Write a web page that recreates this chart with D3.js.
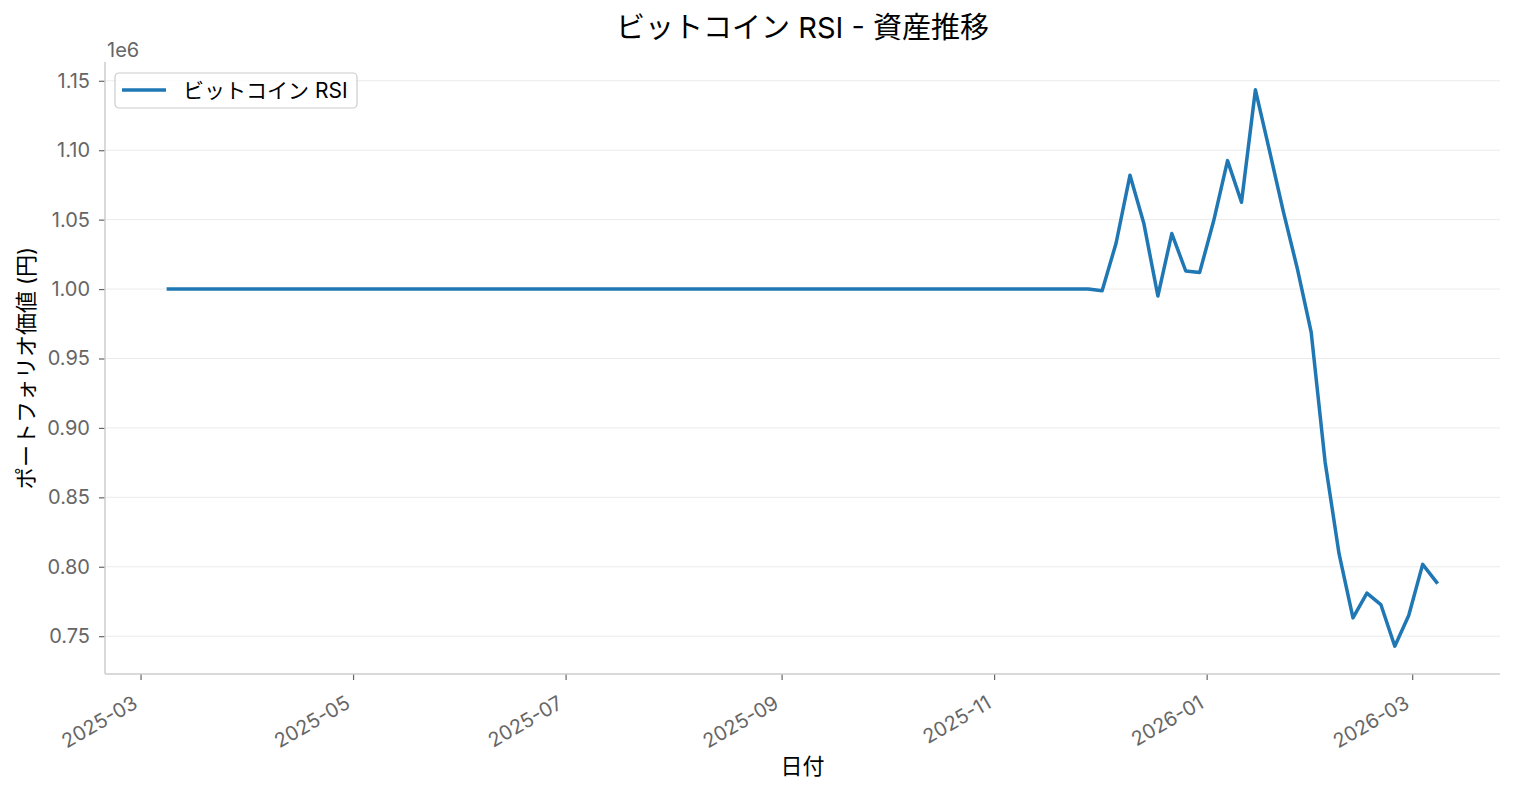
<!DOCTYPE html>
<html>
<head>
<meta charset="utf-8">
<script src="https://cdn.jsdelivr.net/npm/d3@7/dist/d3.min.js"></script>
<style>
  html, body { margin: 0; padding: 0; background: #fff; }
  svg { display: block; font-family: Inter, "Noto Sans CJK JP", sans-serif; }
</style>
</head>
<body>
<svg id="chart" width="1514" height="793"></svg>
<script>
// ---- data ----
const chartTitle = "ビットコイン RSI - 資産推移";
const seriesName = "ビットコイン RSI";
const xLabel = "日付";
const yLabel = "ポートフォリオ価値 (円)";
const offsetLabel = "1e6";

const dates = [
  "2025-03-09", "2025-11-28", "2025-12-02", "2025-12-06", "2025-12-10",
  "2025-12-14", "2025-12-18", "2025-12-22", "2025-12-26", "2025-12-30",
  "2026-01-03", "2026-01-07", "2026-01-11", "2026-01-15", "2026-01-19",
  "2026-01-23", "2026-01-27", "2026-01-31", "2026-02-04", "2026-02-08",
  "2026-02-12", "2026-02-16", "2026-02-20", "2026-02-24", "2026-02-28",
  "2026-03-04", "2026-03-08"
];
const values = [
  1000000, 1000000, 998800, 1033000, 1082000,
  1047000, 995000, 1040000, 1013000, 1012000,
  1049000, 1092500, 1062500, 1143500, 1100000,
  1056000, 1015000, 969000, 875500, 809400,
  763200, 781000, 772800, 742800, 764900,
  801700, 788900
];

const yTicks = [750000, 800000, 850000, 900000, 950000, 1000000, 1050000, 1100000, 1150000];
const xTicks = ["2025-03-01", "2025-05-01", "2025-07-01", "2025-09-01", "2025-11-01", "2026-01-01", "2026-03-01"];

// ---- layout ----
const FONT = "Inter, 'Noto Sans CJK JP', sans-serif";
const svg = d3.select("#chart");
const plot = { left: 105, right: 1500, top: 62, bottom: 674 };
const parse = d3.utcParse("%Y-%m-%d");
const points = dates.map((d, i) => ({ date: parse(d), value: values[i] }));

const xExt = d3.extent(points, d => d.date);
const xPad = (xExt[1] - xExt[0]) * 0.05;
const x = d3.scaleUtc()
  .domain([new Date(+xExt[0] - xPad), new Date(+xExt[1] + xPad)])
  .range([plot.left, plot.right]);

const yExt = d3.extent(points, d => d.value);
const yPad = (yExt[1] - yExt[0]) * 0.05;
const y = d3.scaleLinear()
  .domain([yExt[0] - yPad, yExt[1] + yPad])
  .range([plot.bottom, plot.top]);

// grid
svg.append("g")
  .selectAll("line")
  .data(yTicks)
  .join("line")
  .attr("x1", plot.left).attr("x2", plot.right)
  .attr("y1", d => y(d)).attr("y2", d => y(d))
  .attr("stroke", "#ebebeb").attr("stroke-width", 1);

// y axis
const yAxis = svg.append("g")
  .attr("transform", `translate(${plot.left},0)`)
  .call(d3.axisLeft(y).tickValues(yTicks).tickSize(6).tickPadding(9)
    .tickFormat(d => d3.format(".2f")(d / 1e6)));
yAxis.select(".domain").remove();
yAxis.selectAll(".tick line").attr("stroke", "#666").attr("stroke-width", 1.2);
yAxis.selectAll(".tick text")
  .attr("fill", "#666").attr("font-size", 20)
  .attr("font-family", FONT);

// x axis
const xAxis = svg.append("g")
  .attr("transform", `translate(0,${plot.bottom})`)
  .call(d3.axisBottom(x).tickValues(xTicks.map(parse)).tickSize(6)
    .tickFormat(d3.utcFormat("%Y-%m")));
xAxis.select(".domain").remove();
xAxis.selectAll(".tick line").attr("stroke", "#666").attr("stroke-width", 1.2);
xAxis.selectAll(".tick text")
  .attr("fill", "#666").attr("font-size", 20)
  .attr("font-family", FONT)
  .attr("text-anchor", "end")
  .attr("dy", null)
  .attr("y", null)
  .attr("transform", "translate(-2,33) rotate(-30)");

// spines
svg.append("line")
  .attr("x1", plot.left).attr("x2", plot.left)
  .attr("y1", plot.top).attr("y2", plot.bottom)
  .attr("stroke", "#cccccc").attr("stroke-width", 1.5);
svg.append("line")
  .attr("x1", plot.left).attr("x2", plot.right)
  .attr("y1", plot.bottom).attr("y2", plot.bottom)
  .attr("stroke", "#cccccc").attr("stroke-width", 1.5);

// line
const line = d3.line().x(d => x(d.date)).y(d => y(d.value));
svg.append("path")
  .datum(points)
  .attr("d", line)
  .attr("fill", "none")
  .attr("stroke", "#1f77b4")
  .attr("stroke-width", 3.5)
  .attr("stroke-linejoin", "round")
  .attr("stroke-linecap", "square");

// offset text
svg.append("text")
  .attr("x", plot.left + 2).attr("y", 57)
  .attr("fill", "#666").attr("font-size", 20)
  .text(offsetLabel);

// title
svg.append("text")
  .attr("x", (plot.left + plot.right) / 2).attr("y", 27)
  .attr("text-anchor", "middle").attr("dominant-baseline", "central")
  .attr("font-size", 29).attr("fill", "#000")
  .text(chartTitle);

// axis labels
svg.append("text")
  .attr("x", (plot.left + plot.right) / 2).attr("y", 766)
  .attr("text-anchor", "middle").attr("dominant-baseline", "central")
  .attr("font-size", 22).attr("fill", "#000")
  .text(xLabel);
svg.append("text")
  .attr("transform", `translate(26,${(plot.top + plot.bottom) / 2}) rotate(-90)`)
  .attr("text-anchor", "middle").attr("dominant-baseline", "central")
  .attr("font-size", 22).attr("fill", "#000")
  .text(yLabel);

// legend
const lg = svg.append("g").attr("transform", "translate(115,73)");
lg.append("rect")
  .attr("x", 0).attr("y", 0).attr("width", 242).attr("height", 35)
  .attr("rx", 4).attr("ry", 4)
  .attr("fill", "#fff").attr("fill-opacity", 0.8)
  .attr("stroke", "#cccccc").attr("stroke-width", 1.2);
lg.append("line")
  .attr("x1", 7).attr("x2", 51).attr("y1", 17).attr("y2", 17)
  .attr("stroke", "#1f77b4").attr("stroke-width", 3.5);
lg.append("text")
  .attr("x", 68).attr("y", 17.5)
  .attr("dominant-baseline", "central")
  .attr("font-size", 21).attr("fill", "#000")
  .text(seriesName);
</script>
</body>
</html>
